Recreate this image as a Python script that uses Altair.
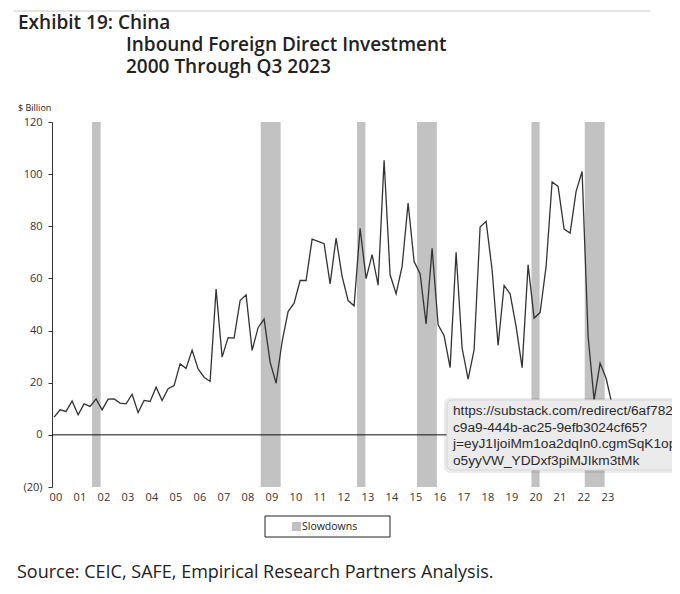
import altair as alt
import pandas as pd

# Quarterly inbound FDI, $ billion, starting 2000Q1
fdi = [6.8, 9.6, 9.0, 13.0, 7.7, 11.9, 10.9, 13.8, 9.6, 13.7,
       13.8, 12.2, 11.9, 15.6, 8.6, 13.2, 12.8, 18.3, 13.2, 17.7,
       18.9, 27.2, 25.5, 32.5, 25.3, 22.1, 20.5, 55.9, 29.8, 37.3,
       37.1, 51.5, 53.7, 32.4, 41.1, 44.4, 27.9, 19.8, 35.8, 47.3,
       50.5, 59.2, 59.2, 75.1, 74.2, 73.3, 57.9, 75.5,
       60.8, 51.5, 49.5, 79.2, 59.9, 69.1, 57.4, 105.3, 61.4, 54.1,
       64.6, 88.9, 66.5, 61.8, 42.5, 71.6, 42.2, 38.0, 25.8, 70.0,
       33.3, 21.4, 32.6, 79.7, 81.9, 63.3, 34.3, 57.3, 54.1, 41.6,
       25.8, 65.2, 44.8, 46.9, 64.6, 97.0, 95.3, 78.9, 77.4, 93.4,
       101.0, 37.7, 13.4, 27.5, 21.7, 11.5]

# Slowdown shading periods (fractional years)
slow_start = [2001.58, 2008.61, 2012.62, 2015.12, 2019.89, 2022.11]
slow_end = [2001.94, 2009.44, 2012.97, 2015.95, 2020.23, 2022.94]

year_ticks = list(range(2000, 2024))
y_ticks = [-20, 0, 20, 40, 60, 80, 100, 120]

tooltip_lines = ["https://substack.com/redirect/6af7825",
                 "c9a9-444b-ac25-9efb3024cf65?",
                 "j=eyJ1IjoiMm1oa2dqIn0.cgmSqK1opQy",
                 "o5yyVW_YDDxf3piMJIkm3tMk"]

periods = pd.period_range("2000Q1", periods=len(fdi), freq="Q")
df = pd.DataFrame({"t": [p.year + (p.quarter - 1) / 4 for p in periods], "v": fdi})
bands = pd.DataFrame({"t": slow_start, "e": slow_end})

W, H = 565, 365
FONT = "Open Sans"

xscale = alt.Scale(domain=[1999.9125, 2023.454], nice=False, zero=False)
yscale = alt.Scale(domain=[-20, 120], nice=False)

xaxis = alt.Axis(values=[y + 0.054 for y in year_ticks], title=None, domain=False, ticks=False,
                 grid=False, labelExpr="slice('0' + (floor(datum.value) % 100), -2)",
                 labelFont=FONT, labelFontSize=11, labelColor="#333", labelPadding=4,
                 labelFlush=False, labelOverlap=False)
yaxis = alt.Axis(values=y_ticks, title=None, grid=False, domainColor="#333", tickColor="#333",
                 tickSize=4, labelPadding=6,
                 labelExpr="datum.value < 0 ? '(' + abs(datum.value) + ')' : datum.value",
                 labelFont=FONT, labelFontSize=11, labelColor="#333")

band_layer = alt.Chart(bands).mark_rect(color="#c2c2c2").encode(
    x=alt.X("t:Q", scale=xscale, axis=xaxis),
    x2="e:Q",
    y=alt.value(0),
    y2=alt.value(H),
)

zero_layer = alt.Chart(pd.DataFrame({"v": [0]})).mark_rule(color="#111", strokeWidth=1).encode(
    y=alt.Y("v:Q", scale=yscale, axis=yaxis)
)

line_layer = alt.Chart(df).mark_line(color="#333", strokeWidth=1.3).encode(
    x=alt.X("t:Q", scale=xscale, axis=xaxis),
    y=alt.Y("v:Q", scale=yscale, axis=yaxis),
)


def text_layer(txt, x, y, size, weight="normal", font=FONT, color="#222", align="left"):
    return alt.Chart(pd.DataFrame({"txt": [txt]})).mark_text(
        font=font, fontSize=size, fontWeight=weight, color=color, align=align, baseline="alphabetic"
    ).encode(x=alt.value(x), y=alt.value(y), text="txt:N")


top_rule = alt.Chart(pd.DataFrame({"a": [0]})).mark_rule(color="#c8c8c8", strokeWidth=1).encode(
    x=alt.value(-38), x2=alt.value(598), y=alt.value(-111)
)

titles = [
    text_layer("Exhibit 19: China", -34, -93, 19, 600),
    text_layer("Inbound Foreign Direct Investment", 74, -71, 19, 600),
    text_layer("2000 Through Q3 2023", 74, -49, 19, 600),
    text_layer("$ Billion", -34, -11, 9),
    text_layer("Source: CEIC, SAFE, Empirical Research Partners Analysis.", -35, 456, 18),
]

legend_box = alt.Chart(pd.DataFrame({"a": [0]})).mark_rect(fill="white", stroke="#222", strokeWidth=1).encode(
    x=alt.value(213), x2=alt.value(338), y=alt.value(394), y2=alt.value(415)
)
legend_sym = alt.Chart(pd.DataFrame({"a": [0]})).mark_rect(color="#c2c2c2").encode(
    x=alt.value(240), x2=alt.value(249), y=alt.value(400), y2=alt.value(409)
)
legend_txt = text_layer("Slowdowns", 250, 408, 10.5, color="#222")

tip_shadow = alt.Chart(pd.DataFrame({"a": [0]})).mark_rect(
    color="#000", opacity=0.08, cornerRadius=6
).encode(x=alt.value(392), x2=alt.value(700), y=alt.value(276), y2=alt.value(351))
tip_box = alt.Chart(pd.DataFrame({"a": [0]})).mark_rect(
    fill="#ebebeb", stroke="#d6d6d6", strokeWidth=1, cornerRadius=5
).encode(x=alt.value(395), x2=alt.value(700), y=alt.value(278), y2=alt.value(348))
tip_texts = [text_layer(s, 401, 293 + 16.5 * k, 13.7, font="Liberation Sans", color="#2a2a2a")
             for k, s in enumerate(tooltip_lines)]

chart = alt.layer(
    band_layer, zero_layer, line_layer, top_rule, *titles, legend_box, legend_sym, legend_txt,
    tip_shadow, tip_box, *tip_texts
).properties(
    width=W, height=H,
    padding={"left": 44, "top": 114, "right": 55, "bottom": 95},
    autosize=alt.AutoSizeParams(type="none"),
    background="white",
).configure_view(stroke=None)

chart.save("out.html", embed_options={"renderer": "svg", "actions": False})
